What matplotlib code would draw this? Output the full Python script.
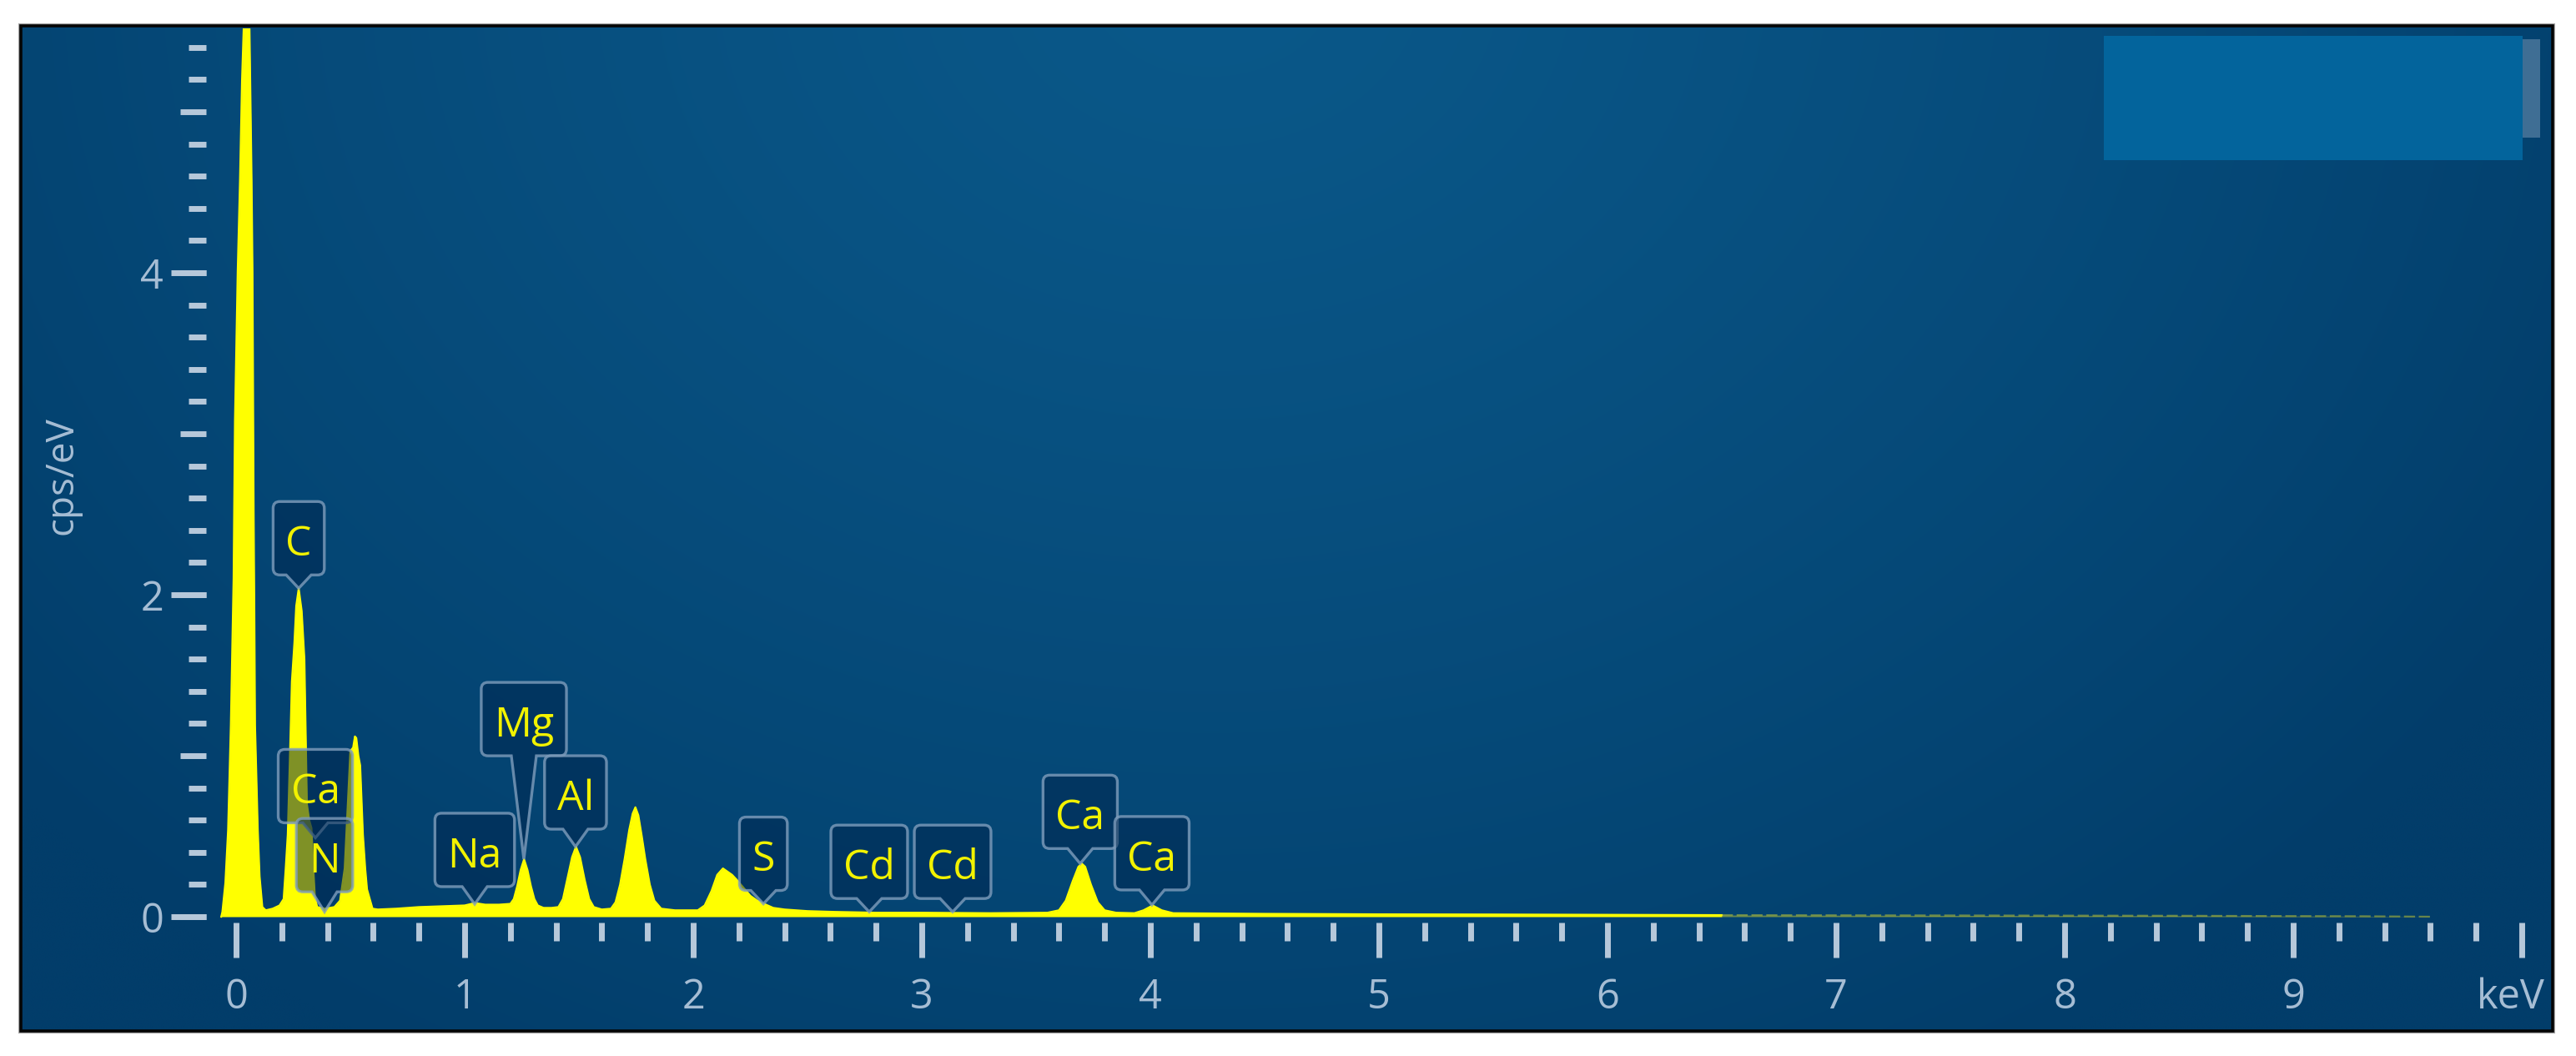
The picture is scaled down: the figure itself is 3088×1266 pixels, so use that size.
import numpy as np
import matplotlib
matplotlib.use('Agg')
import matplotlib.pyplot as plt
from matplotlib.path import Path
from matplotlib.patches import PathPatch, Rectangle
from matplotlib.transforms import IdentityTransform
from matplotlib.ticker import MultipleLocator, FixedLocator, FuncFormatter

plt.rcParams['font.family'] = ['Open Sans', 'DejaVu Sans']

# ---------------- data ----------------
spectrum_kev = [-0.065, -0.06, -0.047, -0.035, -0.023, -0.011, -0.005, 0.007, 0.017, 0.026,
                0.035, 0.045, 0.058, 0.062, 0.068, 0.072, 0.075, 0.077, 0.080, 0.083,
                0.095, 0.103, 0.115, 0.13, 0.16, 0.19, 0.208, 0.217, 0.226, 0.237,
                0.244, 0.255, 0.263, 0.274, 0.287, 0.299, 0.305, 0.31, 0.32, 0.33,
                0.338, 0.345, 0.355, 0.39, 0.43, 0.455, 0.475, 0.488, 0.50, 0.512,
                0.52, 0.526, 0.535, 0.543, 0.555, 0.565, 0.573, 0.597, 0.62, 0.70,
                0.80, 0.90, 1.00, 1.045, 1.09, 1.15, 1.20, 1.215, 1.23, 1.245,
                1.26, 1.275, 1.29, 1.305, 1.32, 1.345, 1.38, 1.41, 1.43, 1.45,
                1.47, 1.487, 1.505, 1.525, 1.545, 1.565, 1.60, 1.64, 1.66, 1.68,
                1.70, 1.72, 1.735, 1.747, 1.76, 1.775, 1.79, 1.81, 1.83, 1.86,
                1.92, 2.00, 2.02, 2.05, 2.08, 2.105, 2.13, 2.15, 2.17, 2.19,
                2.22, 2.25, 2.28, 2.31, 2.35, 2.40, 2.50, 2.62, 2.80, 3.00,
                3.30, 3.55, 3.60, 3.63, 3.66, 3.685, 3.70, 3.715, 3.74, 3.77,
                3.80, 3.85, 3.93, 3.97, 4.01, 4.05, 4.10, 4.50, 5.00, 5.50,
                6.00, 6.50]
spectrum_cps = [0.0, 0.03, 0.21, 0.54, 1.19, 2.10, 3.08, 4.01, 4.57, 5.20,
                5.60, 6.50, 5.60, 5.20, 4.57, 4.00, 3.10, 2.50, 1.90, 1.19,
                0.54, 0.25, 0.06, 0.04, 0.05, 0.07, 0.11, 0.30, 0.51, 1.07,
                1.46, 1.70, 1.93, 2.04, 1.90, 1.60, 1.12, 0.70, 0.60, 0.55,
                0.30, 0.12, 0.06, 0.05, 0.06, 0.10, 0.30, 0.68, 1.03, 1.05,
                1.12, 1.11, 1.00, 0.94, 0.51, 0.30, 0.17, 0.05, 0.045, 0.05,
                0.06, 0.065, 0.07, 0.085, 0.075, 0.075, 0.08, 0.11, 0.19, 0.29,
                0.357, 0.29, 0.19, 0.11, 0.07, 0.055, 0.055, 0.06, 0.11, 0.24,
                0.37, 0.435, 0.37, 0.23, 0.11, 0.06, 0.045, 0.05, 0.09, 0.20,
                0.36, 0.54, 0.64, 0.68, 0.63, 0.50, 0.36, 0.20, 0.10, 0.05,
                0.04, 0.04, 0.04, 0.07, 0.16, 0.26, 0.30, 0.28, 0.26, 0.23,
                0.18, 0.13, 0.10, 0.08, 0.055, 0.045, 0.035, 0.03, 0.025, 0.025,
                0.022, 0.025, 0.04, 0.10, 0.22, 0.31, 0.33, 0.31, 0.20, 0.09,
                0.04, 0.025, 0.022, 0.04, 0.07, 0.04, 0.022, 0.018, 0.015, 0.014,
                0.012, 0.010]
tail_kev = [6.50, 7.00, 7.50, 8.00, 8.50, 9.00, 9.30, 9.60]
tail_cps = [0.010, 0.009, 0.008, 0.007, 0.006, 0.004, 0.003, 0.0]

peak_labels = ['C', 'Ca', 'N', 'Na', 'Mg', 'Al', 'S', 'Cd', 'Cd', 'Ca', 'Ca']
peak_kev = [0.274, 0.347, 0.387, 1.044, 1.259, 1.485, 2.307, 2.770, 3.135, 3.693, 4.007]
peak_cps = [2.04, 0.49, 0.03, 0.078, 0.357, 0.435, 0.08, 0.03, 0.03, 0.33, 0.073]

x_tick_values = [0, 1, 2, 3, 4, 5, 6, 7, 8, 9, 10]
x_tick_labels = ['0', '1', '2', '3', '4', '5', '6', '7', '8', '9', '']
y_tick_values = [0, 1, 2, 3, 4, 5]
y_tick_labels = ['0', '', '2', '', '4', '']
y_long_ticks = [0, 2, 4]
x_unit = 'keV'
y_unit = 'cps/eV'

# ---------------- layout ----------------
W, H, DPI = 3088, 1266, 100
fig = plt.figure(figsize=(W / DPI, H / DPI), dpi=DPI, facecolor='white')


def frect(x0, y0, x1, y1):
    return [x0 / W, 1 - y1 / H, (x1 - x0) / W, (y1 - y0) / H]


TICKC = '#b6c8da'
LABC = '#a6bdd4'
YELLOW = '#ffff00'
TW = 5.0

# panel with radial gradient
PX0, PY0, PX1, PY1 = 25, 31, 3060, 1236
fig.add_artist(Rectangle((PX0 / W - 0.0006, 1 - PY1 / H - 0.0015),
                         (PX1 - PX0) / W + 0.0012, (PY1 - PY0) / H + 0.003,
                         transform=fig.transFigure, fill=False, ec='#a8a8a8', lw=1.5, zorder=0))
bg = fig.add_axes(frect(PX0, PY0, PX1, PY1))
bg.set_axis_off()
nx, ny = 700, 300
gx = np.linspace(0, 1, nx)
gy = np.linspace(0, 1, ny)
GX, GY = np.meshgrid(gx, gy)
rr = np.sqrt(((GX - 0.47) / 0.62) ** 2 + ((GY + 0.05) / 1.25) ** 2)
tt = np.clip(rr, 0, 1) ** 1.3
c0 = np.array([0x0a, 0x58, 0x89]) / 255
c1 = np.array([0x02, 0x3d, 0x6a]) / 255
img = c0[None, None, :] * (1 - tt[..., None]) + c1[None, None, :] * tt[..., None]
bg.imshow(img, extent=[0, 1, 0, 1], aspect='auto', origin='upper', interpolation='bilinear')
bg.set_xlim(0, 1)
bg.set_ylim(0, 1)
bg.add_patch(Rectangle((0, 0), 1, 1, transform=bg.transAxes, fill=False,
                       ec='#050505', lw=2.6, clip_on=False, zorder=5))

# blank legend box at top right
fig.add_artist(Rectangle((2530 / W, 1 - 165 / H), (3045 - 2530) / W, (165 - 47) / H,
                         transform=fig.transFigure, fc='#3f6e94', ec='none', zorder=3))
fig.add_artist(Rectangle((2522 / W, 1 - 192 / H), (3024 - 2522) / W, (192 - 43) / H,
                         transform=fig.transFigure, fc='#03649c', ec='none', zorder=3))

# data axes geometry
X0, KEV = 283, 274.0
Y0, CPS = 1099, 193.0
AL, AR, AT, AB = 247, 3040, 34, 1106
rect = frect(AL, AT, AR, AB)
xlim = ((AL - X0) / KEV, (AR - X0) / KEV)
ylim = ((Y0 - AB) / CPS, (Y0 - AT) / CPS)

ax = fig.add_axes(rect)
ax.set_facecolor('none')
for s in ax.spines.values():
    s.set_visible(False)
ax.set_xlim(*xlim)
ax.set_ylim(*ylim)

ax.fill_between(spectrum_kev, spectrum_cps, 0, color=YELLOW, lw=0, zorder=2)
ax.plot(spectrum_kev, spectrum_cps, color=YELLOW, lw=1.6, zorder=2)
ax.fill_between(tail_kev, tail_cps, 0, color='#c8cc30', alpha=0.5, lw=0, zorder=2)
ax.plot(tail_kev, tail_cps, color='#c8cc30', alpha=0.5, lw=1.6, ls=(0, (6, 2)), zorder=2)

# ticks
ax.xaxis.set_major_locator(FixedLocator(x_tick_values))
ax.xaxis.set_major_formatter(FuncFormatter(
    lambda v, p: x_tick_labels[x_tick_values.index(int(round(v)))] if int(round(v)) in x_tick_values else ''))
ax.xaxis.set_minor_locator(MultipleLocator(0.2))
ax.yaxis.set_major_locator(FixedLocator(y_tick_values))
ax.yaxis.set_major_formatter(FuncFormatter(
    lambda v, p: y_tick_labels[y_tick_values.index(int(round(v)))] if int(round(v)) in y_tick_values else ''))
ax.yaxis.set_minor_locator(MultipleLocator(0.2))

ax.tick_params(axis='x', which='major', direction='out', length=30.2, width=TW,
               color=TICKC, pad=17.0, labelsize=35, labelcolor=LABC)
ax.tick_params(axis='x', which='minor', direction='out', length=15.8, width=TW, color=TICKC)
ax.tick_params(axis='y', which='major', direction='out', length=22.3, width=TW,
               color=TICKC, pad=14.4, labelsize=35, labelcolor=LABC)
ax.tick_params(axis='y', which='minor', direction='out', length=15.1, width=TW, color=TICKC)

# longer ticks at labelled y values
ax2 = fig.add_axes(rect)
ax2.set_facecolor('none')
for s in ax2.spines.values():
    s.set_visible(False)
ax2.set_xlim(*xlim)
ax2.set_ylim(*ylim)
ax2.set_xticks([])
ax2.yaxis.set_major_locator(FixedLocator(y_long_ticks))
ax2.tick_params(axis='y', which='major', direction='out', length=30.2, width=TW,
                color=TICKC, labelleft=False)
ax2.tick_params(axis='y', which='minor', left=False)

# unit labels
ax.annotate(x_unit, xy=(10, 0), xycoords=('data', 'axes fraction'), xytext=(20, -47.5),
            textcoords='offset points', ha='right', va='top', fontsize=35, color=LABC)
fig.text(75 / W, 1 - 570 / H, y_unit, rotation=90, ha='center', va='center',
         fontsize=33, color=LABC)

# element label callouts
fig.canvas.draw()
renderer = fig.canvas.get_renderer()
LABEL_FS = 36
box_gap = [16, 18, 24, 21, 124, 21, 16, 16, 16, 18, 18]
BOX_H = 88
PADX = 15
TAIL = 15
RAD = 8
cap = 0.714 * LABEL_FS * DPI / 72.0

for i, (name, kev, cps) in enumerate(zip(peak_labels, peak_kev, peak_cps)):
    tx, ty = ax.transData.transform((kev, cps))
    bottom = ty + box_gap[i]
    top = bottom + BOX_H
    txt = ax.text(tx, 0, name, transform=IdentityTransform(), ha='center', va='baseline',
                  fontsize=LABEL_FS, color='#f2f200', zorder=21 + 2 * i, clip_on=False)
    tw = txt.get_window_extent(renderer).width
    hw = tw / 2 + PADX
    cx = tx
    verts = [
        (cx - hw + RAD, top), (cx + hw - RAD, top),
        (cx + hw, top), (cx + hw, top - RAD),
        (cx + hw, bottom + RAD),
        (cx + hw, bottom), (cx + hw - RAD, bottom),
        (cx + TAIL, bottom), (tx, ty), (cx - TAIL, bottom),
        (cx - hw + RAD, bottom),
        (cx - hw, bottom), (cx - hw, bottom + RAD),
        (cx - hw, top - RAD),
        (cx - hw, top), (cx - hw + RAD, top),
        (cx - hw + RAD, top),
    ]
    codes = [Path.MOVETO, Path.LINETO,
             Path.CURVE3, Path.CURVE3,
             Path.LINETO,
             Path.CURVE3, Path.CURVE3,
             Path.LINETO, Path.LINETO, Path.LINETO,
             Path.LINETO,
             Path.CURVE3, Path.CURVE3,
             Path.LINETO,
             Path.CURVE3, Path.CURVE3,
             Path.CLOSEPOLY]
    patch = PathPatch(Path(verts, codes), transform=IdentityTransform(),
                      fc=(0.0, 0.145, 0.30, 0.5), ec=(0.50, 0.62, 0.74, 0.8), lw=2.4,
                      zorder=20 + 2 * i, clip_on=False)
    ax.add_artist(patch)
    cy = (bottom + top) / 2 - 3
    txt.set_position((tx, cy - cap / 2))

fig.savefig('out.png', dpi=DPI, facecolor='white')
